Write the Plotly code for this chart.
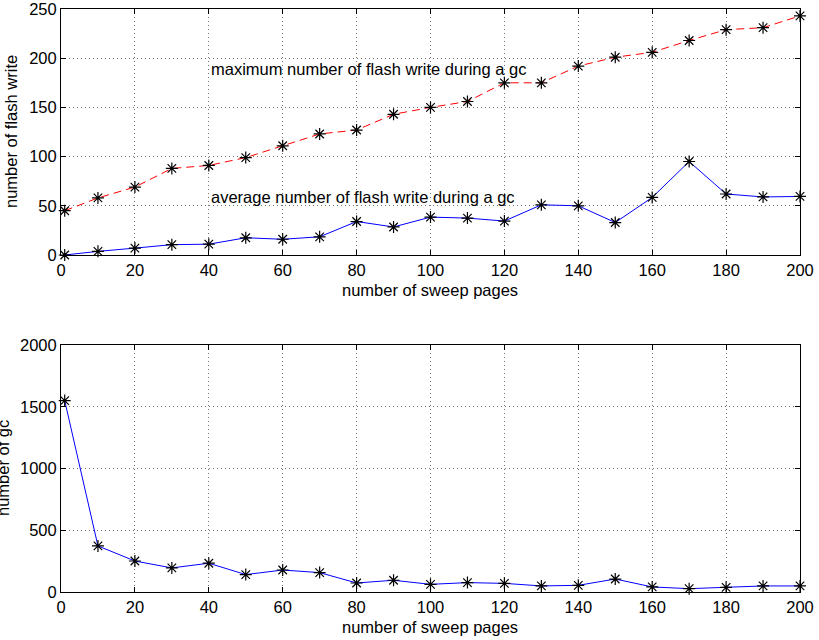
import plotly.graph_objects as go

sweep_pages = [1, 10, 20, 30, 40, 50, 60, 70, 80, 90, 100, 110, 120, 130, 140, 150, 160, 170, 180, 190, 200]
max_flash_write = [45, 58, 69, 88, 91, 99, 111, 123, 127, 143, 150, 156, 175, 175, 192, 201, 206, 218, 229, 231, 243]
avg_flash_write = [0, 3.7, 7, 10.5, 11, 17.5, 16, 18.5, 34, 28.5, 38.5, 37.5, 34.5, 51, 50, 33, 58.5, 95, 62, 59, 59.5]
num_gc = [1550, 373, 251, 195, 233, 141, 178, 157, 73, 95, 62, 76, 70, 49, 54, 105, 41, 27, 38, 49, 49]

x_ticks = list(range(0, 201, 20))
y1_ticks = list(range(0, 251, 50))
y2_ticks = list(range(0, 2001, 500))

W, H = 819, 640
FONT = "Liberation Sans, Arial, Helvetica, sans-serif"
FS = 16.5

fig = go.Figure()

marker = dict(symbol="asterisk-open", size=10, color="black", line=dict(color="black", width=1.2))

fig.add_trace(go.Scatter(x=sweep_pages, y=max_flash_write, mode="lines+markers",
                         line=dict(color="red", width=1, dash="8px,5px"), marker=marker,
                         xaxis="x", yaxis="y", showlegend=False, cliponaxis=False))
fig.add_trace(go.Scatter(x=sweep_pages, y=avg_flash_write, mode="lines+markers",
                         line=dict(color="blue", width=1), marker=marker,
                         xaxis="x", yaxis="y", showlegend=False, cliponaxis=False))
fig.add_trace(go.Scatter(x=sweep_pages, y=num_gc, mode="lines+markers",
                         line=dict(color="blue", width=1), marker=marker,
                         xaxis="x2", yaxis="y2", showlegend=False, cliponaxis=False))

def px_x(p):
    return p / W

def px_y(p):
    return 1 - p / H

axis_common = dict(
    showline=True, linecolor="black", linewidth=1, mirror="ticks",
    ticks="inside", ticklen=5, tickcolor="black", tickwidth=1,
    showgrid=True, gridcolor="rgba(0,0,0,0.55)", gridwidth=1, griddash="1px,3px",
    zeroline=False, automargin=False, ticklabeloverflow="allow",
    tickfont=dict(family=FONT, size=FS, color="black"),
)

fig.update_layout(
    width=W, height=H, autosize=False,
    margin=dict(l=0, r=0, t=0, b=0, pad=0, autoexpand=False),
    paper_bgcolor="white", plot_bgcolor="white",
    font=dict(family=FONT, size=FS, color="black"),
    xaxis=dict(domain=[px_x(61), px_x(800)], range=[0, 200], tickvals=x_ticks,
               anchor="y", **axis_common),
    yaxis=dict(domain=[px_y(255), px_y(9)], range=[0, 250], tickvals=y1_ticks,
               anchor="x", **axis_common),
    xaxis2=dict(domain=[px_x(61), px_x(800)], range=[0, 200], tickvals=x_ticks,
                anchor="y2", **axis_common),
    yaxis2=dict(domain=[px_y(592), px_y(345)], range=[0, 2000], tickvals=y2_ticks,
                anchor="x2", **axis_common),
)

annotations = [
    dict(text="maximum number of flash write during a gc", x=40, y=189, xref="x", yref="y",
         xanchor="left", yanchor="middle", showarrow=False, font=dict(size=FS)),
    dict(text="average number of flash write during a gc", x=40, y=59, xref="x", yref="y",
         xanchor="left", yanchor="middle", showarrow=False, font=dict(size=FS)),
    dict(text="number of sweep pages", x=px_x(430), y=px_y(290), xref="paper", yref="paper",
         xanchor="center", yanchor="middle", showarrow=False, font=dict(size=FS)),
    dict(text="number of sweep pages", x=px_x(430), y=px_y(627), xref="paper", yref="paper",
         xanchor="center", yanchor="middle", showarrow=False, font=dict(size=FS)),
    dict(text="number of flash write", x=px_x(11), y=px_y(132), xref="paper", yref="paper",
         xanchor="center", yanchor="middle", textangle=-90, showarrow=False, font=dict(size=FS)),
    dict(text="number of gc", x=px_x(3), y=px_y(468), xref="paper", yref="paper",
         xanchor="center", yanchor="middle", textangle=-90, showarrow=False, font=dict(size=FS)),
]
fig.update_layout(annotations=annotations)

post = ("document.body.style.margin='0';document.body.style.padding='0';"
        "document.body.style.overflow='hidden';")
fig.write_html("out.html", post_script=post, config={"displayModeBar": False})
